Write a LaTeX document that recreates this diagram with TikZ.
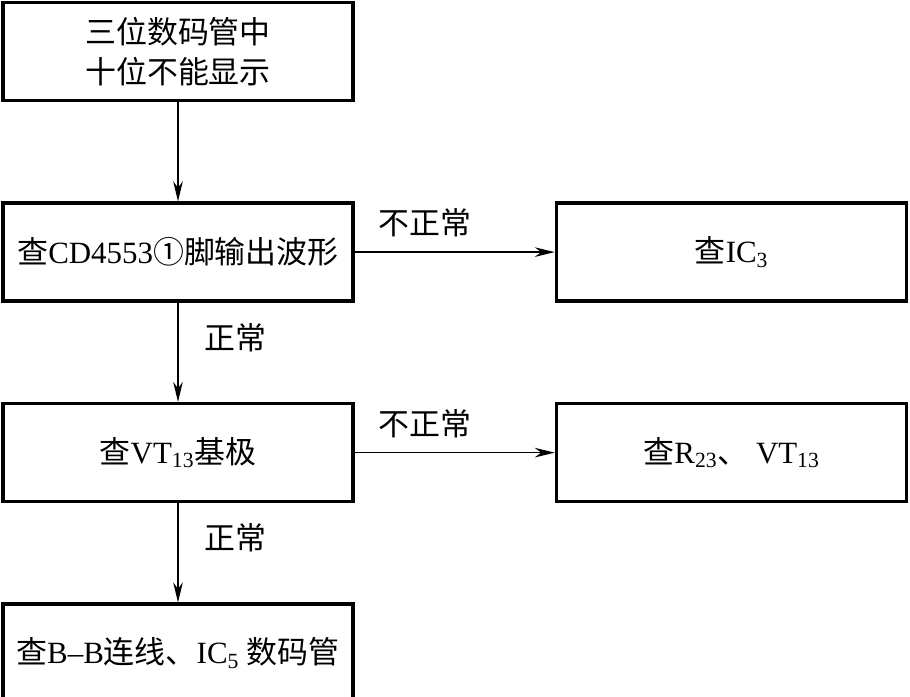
\documentclass[tikz,border=0pt]{standalone}
\usepackage{fontspec}
\setmainfont{Liberation Serif}
\newfontfamily\cjk{Noto Sans CJK SC}
\usepackage{tikz}
\usetikzlibrary{arrows.meta,positioning}
\newcommand{\zh}[1]{{\cjk #1}}
\tikzset{
  flowbox/.style={
    rectangle, draw=black, line width=2.5pt,
    minimum width=8.75cm, minimum height=2.45cm,
    font=\fontsize{22}{29}\selectfont, align=center,
    inner sep=2pt
  },
  flowarrow/.style={
    -{Stealth[length=0.5cm, width=0.24cm]}, line width=1.2pt
  },
  flowlabel/.style={
    font=\fontsize{22}{29}\selectfont, inner sep=0pt
  },
}
\begin{document}
\begin{tikzpicture}[node distance=2.475cm and 5cm]
\useasboundingbox (0,0) rectangle (22.75,-17.4);

\node[flowbox] (fault) at (4.45,-1.29) {\zh{三位数码管中}\\\zh{十位不能显示}};
\node[flowbox, below=of fault] (wave) {\zh{查}CD4553\zh{①脚输出波形}};
\node[flowbox, right=of wave] (ic3) {\zh{查}IC\textsubscript{3}};
\node[flowbox, below=of wave] (base) {\zh{查}VT\textsubscript{13}\zh{基极}};
\node[flowbox, right=of base] (rvt) {\zh{查}R\textsubscript{23}\zh{、} VT\textsubscript{13}};
\node[flowbox, below=of base] (tube) {\zh{查}B--B\zh{连线、}IC\textsubscript{5} \zh{数码管}};

\draw[flowarrow] (fault) -- (wave);
\draw[flowarrow] (wave) -- node[flowlabel, above=0.35cm, pos=0.35] {\zh{不正常}} (ic3);
\draw[flowarrow] (wave) -- node[flowlabel, right=0.65cm, pos=0.35] {\zh{正常}} (base);
\draw[flowarrow] (base) -- node[flowlabel, above=0.35cm, pos=0.35] {\zh{不正常}} (rvt);
\draw[flowarrow] (base) -- node[flowlabel, right=0.65cm, pos=0.35] {\zh{正常}} (tube);

\end{tikzpicture}
\end{document}
